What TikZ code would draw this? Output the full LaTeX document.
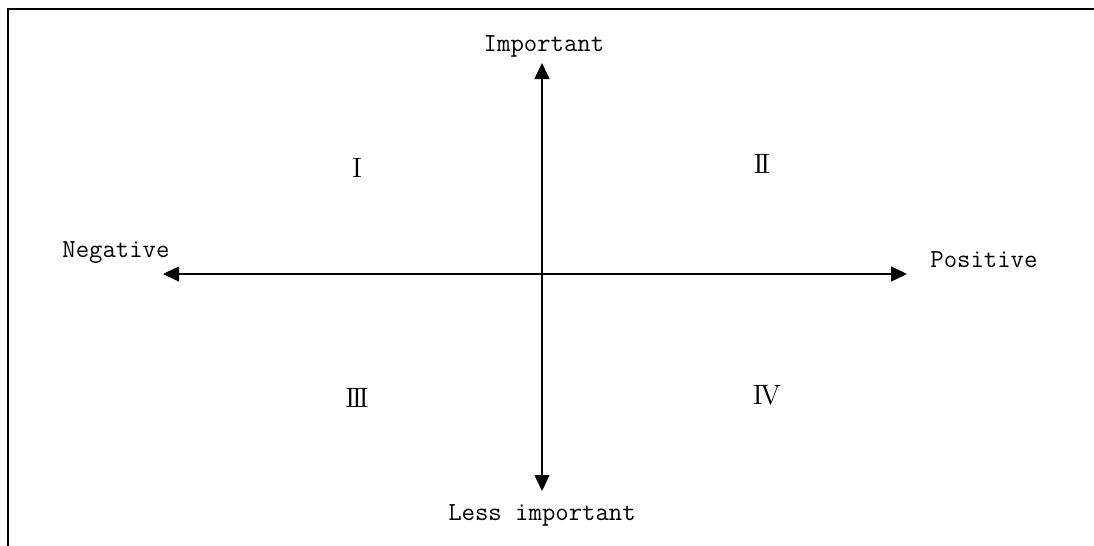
\documentclass[tikz,border=0pt]{standalone}
\usetikzlibrary{arrows.meta}
\tikzset{
    rahmen/.style   = {line width=1pt},
    axis/.style     = {{Triangle[length=8pt, width=7.5pt]}-{Triangle[length=8pt, width=7.5pt]},
                       line width=0.7pt},
    pole/.style     = {font=\fontsize{13}{15}\selectfont\ttfamily, inner sep=0pt},
    quadrant/.style = {font=\fontsize{14}{16}\selectfont, inner sep=0pt, anchor=base}
}

\begin{document}
\begin{tikzpicture}[x=0.5pt, y=-0.5pt]
        \useasboundingbox (0,0) rectangle (1094,546);

        % Rahmen (oben und links)
        \draw[rahmen] (8,546) -- (8,9) -- (1094,9);

        % Achsenenden
        \coordinate (oben)   at (542,63);
        \coordinate (unten)  at (542,491);
        \coordinate (links)  at (163,274);
        \coordinate (rechts) at (907,274);

        % Achsen
        \draw[axis] (links) -- (rechts);
        \draw[axis] (unten) -- (oben);

        % Beschriftung der Achsen
        \node[pole, anchor=base]      (imp)  at (544,52)  {Important};
        \node[pole, anchor=base]      (less) at (542,520) {Less important};
        \node[pole, anchor=base west] (neg)  at (62,257)  {Negative};
        \node[pole, anchor=base west] (pos)  at (930,267) {Positive};

        % Quadranten
        \node[quadrant] (q1) at (357,177) {I};
        \node[quadrant] (q2) at (762,173) {I\kern-1.6pt I};
        \node[quadrant] (q3) at (357,407) {I\kern-1.6pt I\kern-1.6pt I};
        \node[quadrant] (q4) at (767,404) {I\kern-1.2pt V};
    \end{tikzpicture}
\end{document}
